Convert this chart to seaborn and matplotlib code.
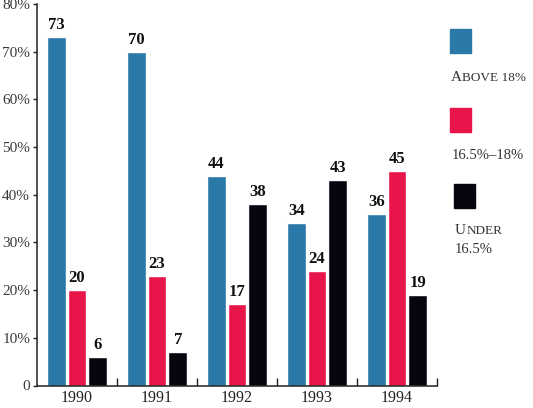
import matplotlib
matplotlib.use("Agg")
import matplotlib.pyplot as plt
import matplotlib.ticker as mticker
import pandas as pd
import seaborn as sns

# data
years = ["1990", "1991", "1992", "1993", "1994"]
bands = ["ABOVE 18%", "16.5%\u201318%", "UNDER 16.5%"]
above_18 = [73, 70, 44, 34, 36]
mid_band = [20, 23, 17, 24, 45]
under_165 = [6, 7, 38, 43, 19]
colors = ["#2a79a8", "#e8154b", "#06060f"]

rows = []
for band, vals in zip(bands, [above_18, mid_band, under_165]):
    for y, v in zip(years, vals):
        rows.append({"year": y, "band": band, "share": v})
df = pd.DataFrame(rows)

sns.set_style("white")
plt.rcParams["font.family"] = ["Liberation Serif", "DejaVu Serif"]

fig = plt.figure(figsize=(5.33, 4.08), dpi=100)
ax = fig.add_axes([37 / 533, 1 - 385.5 / 408, 400 / 533, 381.5 / 408])

sns.barplot(data=df, x="year", y="share", hue="band", hue_order=bands,
            palette=colors, saturation=1, width=0.78, gap=0.1,
            legend=False, ax=ax)

for cont in ax.containers:
    ax.bar_label(cont, padding=3, fontsize=12, fontweight="bold", color="#111111")

ax.set_xlim(-0.5, 4.5)
ax.set_ylim(0, 80)
ax.set_xlabel("")
ax.set_ylabel("")

ax.yaxis.set_major_locator(mticker.MultipleLocator(10))
ax.yaxis.set_major_formatter(mticker.FuncFormatter(lambda v, p: "0" if v == 0 else f"{v:.0f}%"))
ax.tick_params(axis="y", direction="out", length=3, width=1, pad=2,
               labelsize=11, labelcolor="#3a3a3a", color="#222222", left=True)
ax.tick_params(axis="x", which="major", length=0, pad=3, labelsize=11.5, labelcolor="#222222")
ax.xaxis.set_minor_locator(mticker.FixedLocator([0.5, 1.5, 2.5, 3.5, 4.5]))
ax.tick_params(axis="x", which="minor", direction="in", length=6, width=1, color="#222222", bottom=True)

sns.despine(ax=ax)
for side in ["left", "bottom"]:
    ax.spines[side].set_color("#222222")
    ax.spines[side].set_linewidth(1.1)

# legend: swatch above the label, drawn in figure pixels
def fx(px):
    return px / 533

def fy(py):
    return 1 - py / 408

swatches = [(450, 29, 53), (450, 108, 132), (454, 184, 208)]
for (x0, top, bot), c in zip(swatches, colors):
    fig.patches.append(plt.Rectangle((fx(x0), fy(bot)), 21 / 533, (bot - top) / 408,
                                     transform=fig.transFigure, color=c))

legend_color = "#333333"


def small_caps(x, base, first, rest):
    # big first letter, the rest in smaller capitals on the same baseline
    t = fig.text(fx(x), fy(base), first, fontsize=11, color=legend_color, va="baseline")
    ax.annotate(rest, xy=(1, fy(base)), xycoords=(t, "figure fraction"),
                xytext=(0.3, 0), textcoords="offset points",
                fontsize=9.5, color=legend_color, va="baseline", annotation_clip=False)


small_caps(451, 81, "A", "BOVE 18%")
fig.text(fx(452), fy(159.5), bands[1], fontsize=10.5, color=legend_color, va="baseline")
small_caps(455, 234, "U", "NDER")
fig.text(fx(455), fy(253), "16.5%", fontsize=10.5, color=legend_color, va="baseline")

fig.savefig("out.png", dpi=100)
